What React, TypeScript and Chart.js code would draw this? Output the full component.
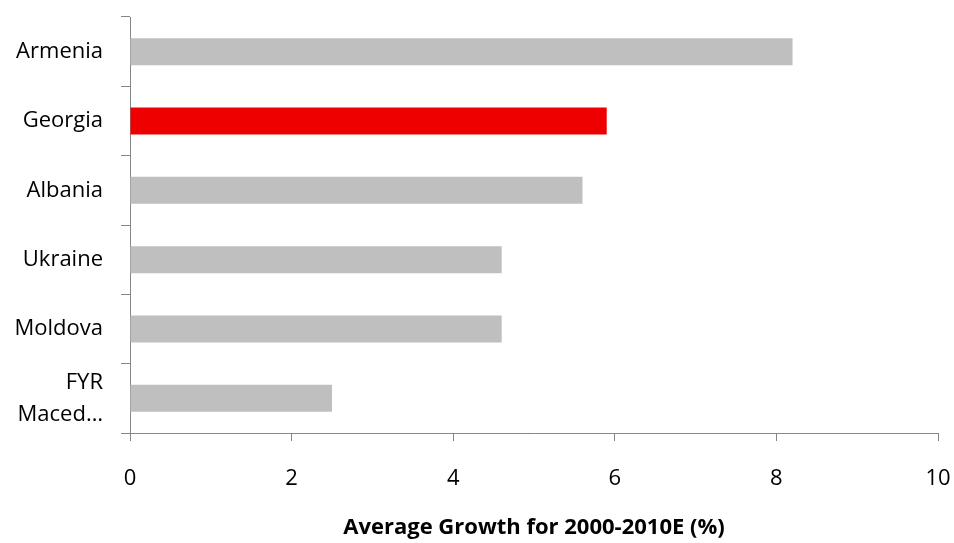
import React, { useEffect, useRef } from "react";
import { Chart, registerables } from "chart.js";

Chart.register(...registerables);

const categories: (string | string[])[] = ["Armenia", "Georgia", "Albania", "Ukraine", "Moldova", ["FYR", "Maced…"]];
const growthValues: number[] = [8.2, 5.9, 5.6, 4.6, 4.6, 2.5];
const highlightCountry = "Georgia";
const xTickValues: number[] = [0, 2, 4, 6, 8, 10];
const axisTitle = "Average Growth for 2000-2010E (%)";

const GRAY = "#BFBFBF";
const RED = "#EE0000";
const AXIS = "#868686";
const FONT = "'Open Sans', sans-serif";

export default function App() {
  const ref = useRef<HTMLCanvasElement | null>(null);
  useEffect(() => {
    if (!ref.current) return;
    const colors = categories.map((c) => (c === highlightCountry ? RED : GRAY));
    const chart = new Chart(ref.current, {
      type: "bar",
      data: {
        labels: categories,
        datasets: [
          {
            data: growthValues,
            backgroundColor: colors,
            borderWidth: 0,
            barPercentage: 0.39,
            categoryPercentage: 1,
          },
        ],
      },
      options: {
        indexAxis: "y",
        responsive: false,
        animation: false,
        layout: { padding: { top: 17, right: 16, bottom: 0, left: 0 } },
        plugins: { legend: { display: false }, tooltip: { enabled: false } },
        scales: {
          y: {
            offset: true,
            grid: {
              display: true,
              drawOnChartArea: false,
              drawTicks: true,
              tickLength: 9,
              color: AXIS,
              offset: true,
            },
            border: { display: true, color: AXIS, width: 1 },
            ticks: {
              color: "#000",
              font: { family: FONT, size: 22, lineHeight: 1.45 },
              padding: 18,
            },
            afterFit: (scale: any) => {
              scale.width = 130;
              scale.paddingTop = 0;
              scale.paddingBottom = 0;
            },
          },
          x: {
            min: 0,
            max: 10,
            afterBuildTicks: (scale: any) => {
              scale.ticks = xTickValues.map((v) => ({ value: v }));
            },
            grid: {
              display: true,
              drawOnChartArea: false,
              drawTicks: true,
              tickLength: 8,
              color: AXIS,
            },
            border: { display: true, color: AXIS, width: 1 },
            ticks: {
              color: "#000",
              font: { family: FONT, size: 22 },
              padding: 25,
            },
            title: {
              display: true,
              text: axisTitle,
              color: "#000",
              font: { family: FONT, size: 22, weight: "bold" },
              padding: { top: 0, bottom: 2 },
            },
            afterFit: (scale: any) => {
              scale.height = 110;
              scale.paddingLeft = 0;
              scale.paddingRight = 0;
            },
          },
        },
      },
    });
    return () => chart.destroy();
  }, []);
  return (
    <div style={{ position: "absolute", left: 0, top: 0, width: 954, height: 543 }}>
      <canvas ref={ref} width={954} height={543} style={{ display: "block" }} />
    </div>
  );
}
